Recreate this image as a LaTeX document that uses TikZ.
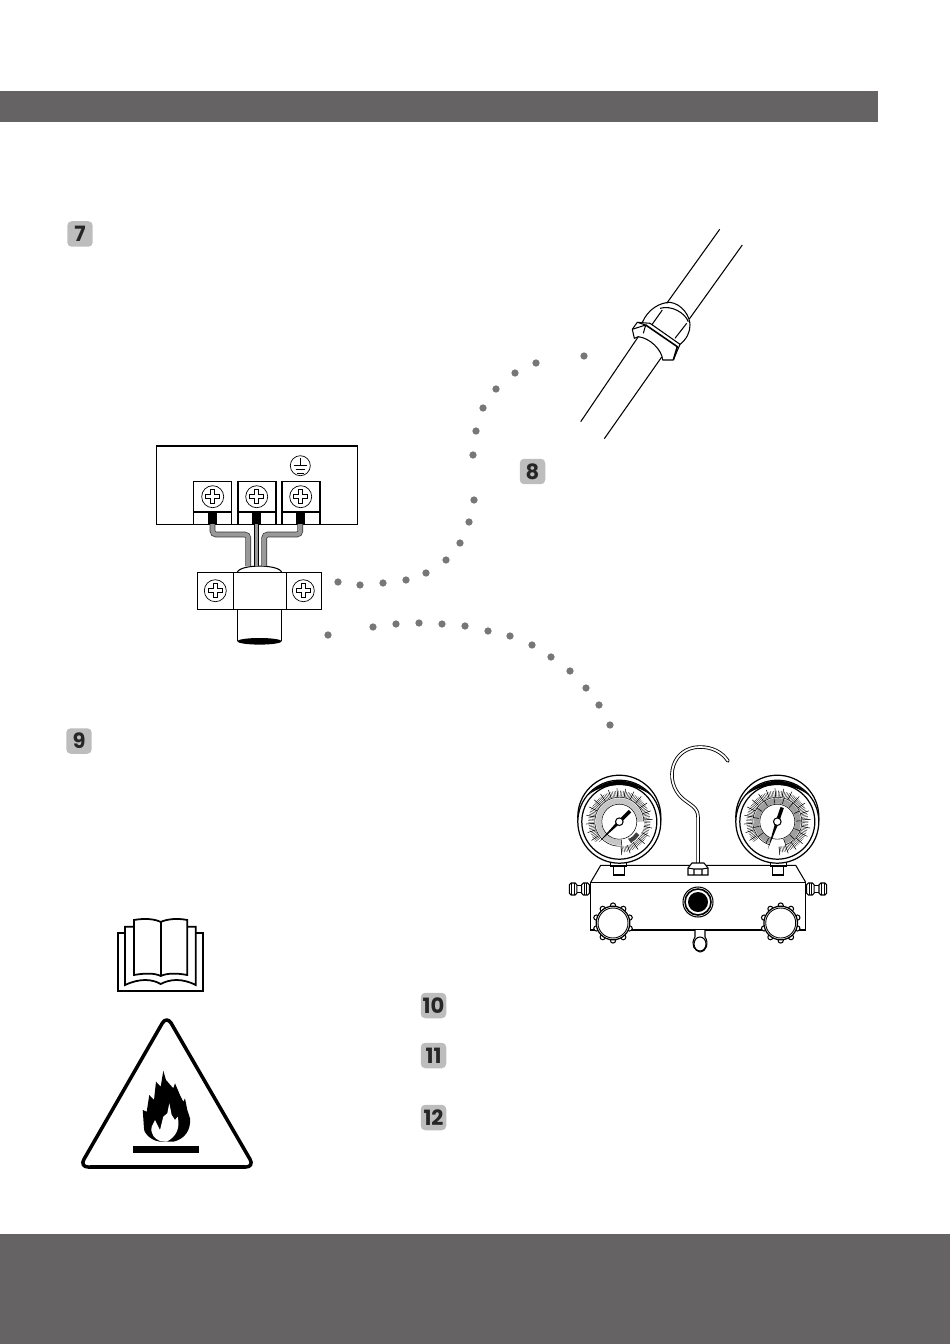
\documentclass[tikz,border=0pt]{standalone}
\usepackage{fontspec}
\setmainfont{Poppins}
\usetikzlibrary{positioning,calc}
\definecolor{bandgray}{HTML}{666365}
\definecolor{badgegray}{HTML}{BDBDBD}
\definecolor{dotgray}{HTML}{77777A}
\tikzset{
  thinline/.style={line width=0.6pt,black},
  badge/.style={fill=badgegray,rounded corners=2.5pt,minimum size=0.51cm,inner sep=0pt,font=\bfseries\fontsize{12}{14}\selectfont,text=black!85},
  dot/.style={circle,fill=dotgray,minimum size=0.145cm,inner sep=0pt},
  termbox/.style={draw,line width=0.6pt,minimum width=0.76cm,minimum height=0.86cm,inner sep=0pt},
  wire/.style={line width=3.2pt,black!80,rounded corners=2pt},
  wirefill/.style={line width=2.4pt,gray!80,rounded corners=2pt},
}
% one screw head
\newcommand{\screwhead}[2]{
  \draw[line width=0.4pt] (#1,#2) circle[radius=11];
  \draw[line width=0.6pt,fill=white] (#1-2,#2-7)--(#1+2,#2-7)--(#1+2,#2-2)--(#1+7,#2-2)--(#1+7,#2+2)--(#1+2,#2+2)--(#1+2,#2+7)--(#1-2,#2+7)--(#1-2,#2+2)--(#1-7,#2+2)--(#1-7,#2-2)--(#1-2,#2-2)--cycle;
}
% one pressure gauge dial
\newcommand{\gaugedial}[4]{
  \begin{scope}[shift={(#1,#2)},x=0.02cm,y=0.02cm]
    \draw[line width=0.7pt,fill=white] (0,5) circle[radius=41.5];
    \draw[line width=0.7pt,fill=white] (0,0) circle[radius=41.5];
    \fill (140:41) arc[start angle=140,end angle=40,radius=41] .. controls (15,40) and (-15,40) .. (140:41) -- cycle;
    \draw[line width=0.7pt] (0,0) circle[radius=37.5];
    \foreach \a in {-86,-83,...,222} \draw[line width=0.18pt] (\a:25) -- (\a:31);
    \foreach \a in {-86,-71,...,222} \draw[line width=0.3pt] (\a:25) -- (\a:33.5);
    #3
    \draw[line width=0.3pt] (0,0) circle[radius=17.5];
    \fill (#4+180:29) -- (#4+90:1.7) -- (#4-90:1.7) -- cycle;
    \draw[line width=2pt] (#4:3) -- (#4:15);
    \draw[line width=0.6pt,fill=white] (0,0) circle[radius=3.8];
  \end{scope}
}
% one adjusting knob
\newcommand{\gaugeknob}[2]{
  \foreach \a in {0,36,...,324}
    \draw[line width=0.6pt,fill=white] ($(#1,#2)+(\a+18:0.35cm)$) circle[radius=2.6];
  \draw[line width=0.7pt,fill=white] (#1,#2) circle[radius=16.8];
  \draw[line width=0.5pt] (#1,#2) circle[radius=15];
}
\begin{document}
\begin{tikzpicture}[x=0.02cm,y=-0.02cm]
  \useasboundingbox (0,0) rectangle (950,1344);
  % page bands
  \fill[bandgray] (0,91) rectangle (878,122);
  \fill[bandgray] (0,1234) rectangle (950,1344);
  % step badges
  \node[badge] (badge7) at (80,234) {7};
  \node[badge] (badge8) at (532.5,471.5) {8};
  \node[badge] (badge9) at (79,741) {9};
  \node[badge] (badge10) at (433.5,1005.5) {10};
  \node[badge] (badge11) at (433.5,1055.5) {11};
  \node[badge] (badge12) at (433.5,1117.5) {12};
  % dotted trails
  \foreach \px/\py [count=\i] in {338/582,360/585,383/583,406/580,426/573,446/560,460/543,469/522,474/500,473/455,476/431,483/408,496/389,515/373,536/363,584/356}
    \node[dot] (up\i) at (\px,\py) {};
  \foreach \px/\py [count=\i] in {328/635,373/627,396/624,419/623,442/624,465/626,488/631,510/636,532/645,551/657,570/671,586/688,599/705,610/725}
    \node[dot] (low\i) at (\px,\py) {};
  % terminal board
  \draw[thinline] (156.5,446) rectangle (357.5,524.3);
  \node[termbox] (termL) at (212.5,502.8) {};
  \node[termbox] (termM) at (257,502.8) {};
  \node[termbox] (termR) at (301,502.8) {};
  \foreach \n in {termL,termM,termR} \draw[thinline] (\n.west |- 0,512) -- (\n.east |- 0,512);
  \screwhead{212.7}{496.7}
  \screwhead{256.7}{496.7}
  \screwhead{300.7}{496.7}
  \fill (207.7,512) rectangle (217.3,524.3);
  \fill (251.7,512) rectangle (261,524.3);
  \fill (295.7,512) rectangle (305,524.3);
  % earth mark
  \draw[line width=0.4pt] (300.3,465.7) circle[radius=10];
  \draw[line width=0.5pt] (300.3,458) -- (300.3,465) (293.5,465) -- (307,465) (295.5,469) -- (305,469) (297,473) -- (303.5,473);
  % clamp and cable
  \draw[thinline] (237.3,572.3) .. controls (240,564) and (279,564) .. (281.7,572.3);
  \foreach \wx/\bx in {248.3/212.5,264.2/300.3} {
    \draw[wire] (\bx,524) -- (\bx,534.5) -- (\wx,534.5) -- (\wx,566);
    \draw[wirefill] (\bx,524) -- (\bx,534.5) -- (\wx,534.5) -- (\wx,566);
  }
  \draw[line width=2.6pt] (256.3,524) -- (256.3,566);
  \draw[line width=1.4pt,gray!80] (256.3,524) -- (256.3,566);
  \node[draw,line width=0.6pt,minimum width=2.488cm,minimum height=0.74cm,inner sep=0pt] (clamp) at (259.5,590.8) {};
  \draw[thinline] (233.3,572.3) -- (233.3,609.3) (286.7,572.3) -- (286.7,609.3);
  \screwhead{215.3}{590.7}
  \screwhead{303.3}{590.7}
  \draw[line width=0.4pt] (237.3,609.3) -- (237.3,641.3) (281.7,609.3) -- (281.7,641.3);
  \fill (259.5,641.3) ellipse[x radius=22.2,y radius=3.3];
  % pipe with flare nut
  \draw[thinline] (719.7,229.3) -- (666.7,303.3) (742.3,245) -- (689.3,319);
  \draw[thinline] (638.3,336.7) -- (580.7,421.7) (661.7,357) -- (604.3,438.7);
  \draw[thinline] (642.3,322.5) .. controls (648,309) and (660,302.5) .. (670,302.3) .. controls (682,304) and (690,316) .. (690,325) .. controls (690,332) and (687,339) .. (679.3,345);
  \draw[thinline] (660,308.3) .. controls (672,305) and (685,313) .. (688.3,321.7) (662.3,310) -- (651.7,325) (686.7,323.3) -- (675,338.3);
  \draw[thinline,line join=round] (632.3,329.3) -- (637.3,322.3) -- (650,323.3) -- (680,344.3) -- (673.3,360) -- (662.7,360) .. controls (662,350) and (650,338) .. (638.3,336.7) -- (634.3,338.3) -- cycle;
  \draw[line width=0.9pt] (645.7,325) -- (677.3,346.7) -- (673.3,360);
  \draw[thinline] (632.3,329.3) -- (645.7,325) -- (643.3,333.3) (637.3,322.3) -- (645.7,325);
  % manifold body
  \draw[thinline] (590.7,882.3) -- (600.7,865.3) -- (795.7,865.3) -- (805.7,882.3);
  \draw[thinline] (590.7,882.3) rectangle (805.7,930);
  \foreach \gx in {618.8,778.3} {
    \draw[thinline,fill=white] (\gx-5.5,860) rectangle (\gx+5.5,875);
    \draw[thinline,fill=white] (\gx-8,860) rectangle (\gx+8,866);
  }
  \gaugedial{619.3}{821.7}{
    \draw[line width=3.1pt,gray!45] (-84:20.8) arc[start angle=-84,end angle=-360,radius=20.8];
    \foreach \a in {-84,-60,...,-360} \draw[line width=0.3pt] (\a:18.5) -- (\a:24.5);
    \draw[line width=0.3pt] (-84:24.5) arc[start angle=-84,end angle=-360,radius=24.5];
    \draw[line width=2.4pt,black!75] (-62:22) arc[start angle=-62,end angle=-33,radius=22];
  }{45}
  \gaugedial{777.3}{821.7}{
    \draw[line width=3.1pt,gray!75] (-70:20.8) arc[start angle=-70,end angle=250,radius=20.8];
    \foreach \a in {-70,-46,...,250} \draw[line width=0.3pt] (\a:18.5) -- (\a:24.5);
    \draw[line width=0.3pt] (-70:24.5) arc[start angle=-70,end angle=250,radius=24.5];
  }{71}
  % side fittings
  \foreach \fx in {569.3,581.7,806.5,819} {
    \draw[thinline,fill=white,rounded corners=1pt] (\fx,883) rectangle ++(7.6,12);
    \draw[line width=0.4pt] (\fx+2.5,883) -- (\fx+2.5,895) (\fx+5.1,883) -- (\fx+5.1,895);
  }
  \draw[thinline] (576.9,885.5) -- (581.7,885.5) (576.9,892.5) -- (581.7,892.5) (814.1,885.5) -- (819,885.5) (814.1,892.5) -- (819,892.5);
  % hook hose
  \coordinate (hoseEnd) at (698,866);
  \draw[line width=2pt,black,line cap=round] (hoseEnd) -- (698,817) .. controls (698,807) and (690,805) .. (682,798) .. controls (663,780) and (672,747) .. (700,747) .. controls (712,747) and (722,752) .. (728,761);
  \draw[line width=1pt,white] (hoseEnd) -- (698,817) .. controls (698,807) and (690,805) .. (682,798) .. controls (663,780) and (672,747) .. (700,747) .. controls (712,747) and (722,752) .. (728,761);
  \draw[thinline,fill=white] (688,875) -- (688,868) -- (692,863) -- (704,863) -- (708,868) -- (708,875) -- cycle;
  \draw[thinline] (688,868) -- (694,869) -- (702,869) -- (708,868) (694,869) -- (694,875) (702,869) -- (702,875);
  % sight glass and knobs
  \draw[thinline] (698,902) circle[radius=15];
  \draw[line width=0.9pt] (698,902) circle[radius=13];
  \fill (698,902) circle[radius=10];
  \gaugeknob{613}{923}
  \gaugeknob{780.7}{923}
  % bottom fitting
  \draw[thinline,fill=white] (695,930) -- (695,937) .. controls (690,945) and (695,951) .. (700,952) .. controls (707,951) and (709,943) .. (705,937) -- (705,930);
  \draw[thinline] (700,944) ellipse[x radius=6,y radius=7];
  % manual book icon
  \draw[line width=1pt] (125,933.3) -- (117.7,933.3) -- (117.7,991) -- (203.3,991) -- (203.3,933.3) -- (195.7,933.3);
  \draw[line width=1pt] (134,926.7) -- (125,926.7) -- (125,985) .. controls (140,978) and (152,979) .. (160.7,984) .. controls (170,979) and (182,978) .. (195.7,985) -- (195.7,926.7) -- (187.3,926.7);
  \draw[line width=1pt] (134,975) -- (134,920) .. controls (145,918) and (155,919) .. (160.7,922) .. controls (167,919) and (177,918) .. (187.3,920) -- (187.3,975) .. controls (177,973) and (167,973) .. (160.7,976) .. controls (155,973) and (145,973) .. (134,975) -- cycle;
  \draw[line width=1pt] (160.7,922) -- (160.7,976);
  % warning triangle
  \draw[line width=2pt,line join=round,rounded corners=5pt] (166.7,1015.5) -- (254.5,1167) -- (79.5,1167) -- cycle;
  \fill (90,1165) rectangle (245,1168.5);
  \fill (132.7,1146) rectangle (199.3,1152.7);
  \fill (163.3,1070.7) -- (166,1080) -- (173.3,1088.3) -- (175,1083.3) -- (180,1095) -- (183.3,1101.7) -- (185,1098.3) -- (187.3,1110) -- (190,1118.3) .. controls (191,1130) and (185,1139) .. (173.3,1141.7) -- (160,1141.7) .. controls (148,1140) and (143,1130) .. (144,1128.3) -- (142.7,1110) -- (146.7,1111.7) -- (149.3,1095) -- (154,1100) -- (156,1081.7) -- (160.7,1086.7) -- cycle;
  \fill[white] (169.3,1103.3) -- (171.7,1115) -- (175,1120) -- (177.7,1116.7) .. controls (180,1128) and (177,1136) .. (166.7,1141.7) -- (160,1141) .. controls (155,1139) and (150,1134) .. (151.7,1126.7) -- (155,1120) -- (160,1130) -- (163.3,1116.7) -- (167.3,1113.3) -- cycle;
\end{tikzpicture}
\end{document}
